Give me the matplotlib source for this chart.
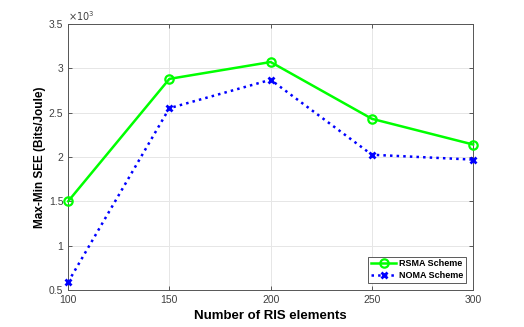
import matplotlib
matplotlib.use('Agg')
import matplotlib.pyplot as plt

ris_elements = [100, 150, 200, 250, 300]
rsma_see = [1500, 2880, 3070, 2430, 2140]
noma_see = [590, 2550, 2870, 2025, 1970]

plt.rcParams['font.family'] = ['Liberation Sans', 'DejaVu Sans']

fig = plt.figure(figsize=(5.24, 3.27), dpi=100)
ax = fig.add_axes([0.130, 0.113, 0.773, 0.814])

ax.plot(ris_elements, rsma_see, '-o', color='#00ff00', lw=1.8, ms=6,
        mfc='none', mew=1.6, label='RSMA Scheme', clip_on=False, zorder=3)
ax.plot(ris_elements, noma_see, ':x', color='#0000ff', lw=1.8, ms=5,
        mew=2, label='NOMA Scheme', clip_on=False, zorder=3)

ax.set_xlim(100, 300)
ax.set_ylim(500, 3500)
ax.set_xticks(ris_elements)
ax.set_yticks([500, 1000, 1500, 2000, 2500, 3000, 3500])
ax.set_yticklabels(['0.5', '1', '1.5', '2', '2.5', '3', '3.5'])
ax.text(0.0, 1.005, r'$\times10^3$', transform=ax.transAxes, fontsize=7,
        color='#404040', ha='left', va='bottom')

ax.grid(True, color='#e6e6e6', lw=0.7)
ax.tick_params(labelsize=7.5, colors='#404040', direction='in', length=3,
               width=0.6, top=True, right=True)
for s in ax.spines.values():
    s.set_color('#555555')
    s.set_linewidth(0.7)

ax.set_xlabel('Number of RIS elements', fontsize=9.5, fontweight='bold',
              labelpad=4)
ax.set_ylabel('Max-Min SEE (Bits/Joule)', fontsize=8.5, fontweight='bold',
              labelpad=2)

leg = ax.legend(loc='lower right', fontsize=6.5, fancybox=False,
                edgecolor='#404040', framealpha=1, handlelength=2.8,
                borderpad=0.3, labelspacing=0.3, handletextpad=0.3,
                borderaxespad=0.8)
leg.get_frame().set_linewidth(0.6)
for t in leg.get_texts():
    t.set_fontweight('bold')

fig.savefig('out.png', dpi=100)
